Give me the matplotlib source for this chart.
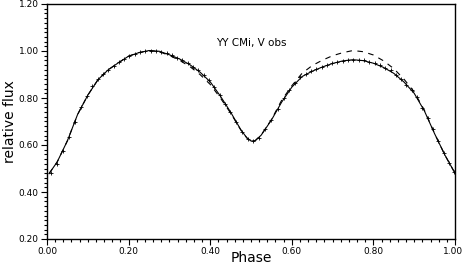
import matplotlib
matplotlib.use("Agg")
import matplotlib.pyplot as plt
from matplotlib.ticker import MultipleLocator, FuncFormatter, FormatStrFormatter

# Fit (solid) curve
fit_phase = [0.005, 0.025, 0.05, 0.075, 0.10, 0.125, 0.15, 0.175, 0.20, 0.225, 0.25,
             0.275, 0.30, 0.325, 0.35, 0.375, 0.40, 0.425, 0.45, 0.475, 0.49, 0.50,
             0.51, 0.525, 0.55, 0.575, 0.60, 0.625, 0.65, 0.675, 0.70, 0.725, 0.75,
             0.775, 0.80, 0.825, 0.85, 0.875, 0.90, 0.925, 0.95, 0.975, 1.00]
fit_flux = [0.478, 0.528, 0.618, 0.730, 0.812, 0.878, 0.920, 0.950, 0.978, 0.993, 1.002,
            0.999, 0.984, 0.966, 0.942, 0.910, 0.869, 0.808, 0.740, 0.665, 0.630, 0.617,
            0.618, 0.642, 0.706, 0.782, 0.846, 0.891, 0.914, 0.932, 0.947, 0.958, 0.963,
            0.959, 0.948, 0.930, 0.905, 0.868, 0.820, 0.745, 0.648, 0.558, 0.480]

# Alternative model (dashed) curve
mod_phase = fit_phase
mod_flux = [0.478, 0.528, 0.618, 0.730, 0.812, 0.878, 0.920, 0.950, 0.978, 0.993, 1.002,
            0.997, 0.981, 0.960, 0.934, 0.900, 0.858, 0.800, 0.736, 0.664, 0.630, 0.617,
            0.618, 0.643, 0.708, 0.790, 0.852, 0.905, 0.938, 0.961, 0.980, 0.993, 1.002,
            0.997, 0.983, 0.958, 0.925, 0.880, 0.826, 0.748, 0.649, 0.558, 0.480]

# Observed points
obs_phase = [0.010, 0.024, 0.038, 0.053, 0.068, 0.083, 0.097, 0.110, 0.124, 0.138,
             0.150, 0.163, 0.176, 0.189, 0.202, 0.215, 0.228, 0.241, 0.254, 0.267,
             0.280, 0.293, 0.306, 0.319, 0.332, 0.345, 0.358, 0.371, 0.384, 0.397,
             0.410, 0.423, 0.436, 0.449, 0.463, 0.477, 0.492, 0.506, 0.520, 0.535,
             0.550, 0.565, 0.580, 0.594, 0.608, 0.621, 0.634, 0.647, 0.660, 0.673,
             0.686, 0.699, 0.712, 0.725, 0.738, 0.751, 0.764, 0.777, 0.790, 0.803,
             0.816, 0.829, 0.842, 0.855, 0.868, 0.881, 0.894, 0.907, 0.920, 0.933,
             0.946, 0.959, 0.972, 0.985, 0.997]
obs_flux = [0.482, 0.520, 0.574, 0.636, 0.700, 0.762, 0.808, 0.850, 0.882, 0.902,
            0.920, 0.938, 0.952, 0.964, 0.978, 0.988, 0.995, 1.000, 1.002, 1.001,
            0.994, 0.990, 0.981, 0.970, 0.962, 0.948, 0.934, 0.918, 0.898, 0.876,
            0.848, 0.812, 0.774, 0.740, 0.696, 0.656, 0.624, 0.615, 0.631, 0.667,
            0.708, 0.754, 0.798, 0.834, 0.862, 0.888, 0.904, 0.914, 0.922, 0.932,
            0.940, 0.947, 0.952, 0.958, 0.960, 0.963, 0.961, 0.960, 0.953, 0.947,
            0.940, 0.928, 0.918, 0.900, 0.880, 0.857, 0.834, 0.804, 0.758, 0.716,
            0.668, 0.617, 0.566, 0.524, 0.486]

title_text = "YY CMi, V obs"
x_label = "Phase"
y_label = "relative flux"

W, H = 463, 268
fig = plt.figure(figsize=(W/100, H/100), dpi=100)
ax = fig.add_axes([47/W, 1-239/H, 408/W, 235/H])

ax.plot(mod_phase, mod_flux, color="black", lw=0.8, ls=(0, (5, 5)))
ax.plot(fit_phase, fit_flux, color="black", lw=0.8)
ax.plot(obs_phase, obs_flux, ls="none", marker="+", ms=2.5, mew=0.6, color="black")

ax.set_xlim(0, 1)
ax.set_ylim(0.2, 1.2)
ax.xaxis.set_major_locator(MultipleLocator(0.2))
ax.xaxis.set_minor_locator(MultipleLocator(0.02))
ax.yaxis.set_major_locator(MultipleLocator(0.2))
ax.yaxis.set_minor_locator(MultipleLocator(0.02))
ax.xaxis.set_major_formatter(FuncFormatter(lambda v, p: "" if v > 0.99 else "%.2f" % v))
ax.yaxis.set_major_formatter(FormatStrFormatter("%.2f"))
ax.tick_params(which="major", direction="out", length=4, width=0.8, labelsize=6.5, pad=2)
ax.tick_params(which="minor", direction="out", length=2.5, width=0.8)
for s in ax.spines.values():
    s.set_linewidth(1.0)

# last x tick label, nudged to stay inside the canvas
ax.annotate("%.2f" % 1.0, xy=(1.0, 0), xycoords="axes fraction",
            xytext=(-1.5, -6.0), textcoords="offset points",
            ha="center", va="top", fontsize=6.5)

ax.text(0.50, 1.034, title_text, ha="center", va="center", fontsize=7.5)
fig.text(251/W, 1-258/H, x_label, ha="center", va="center", fontsize=10)
fig.text(10/W, 1-122/H, y_label, ha="center", va="center", fontsize=10, rotation=90)

fig.savefig("out.png", dpi=100)
